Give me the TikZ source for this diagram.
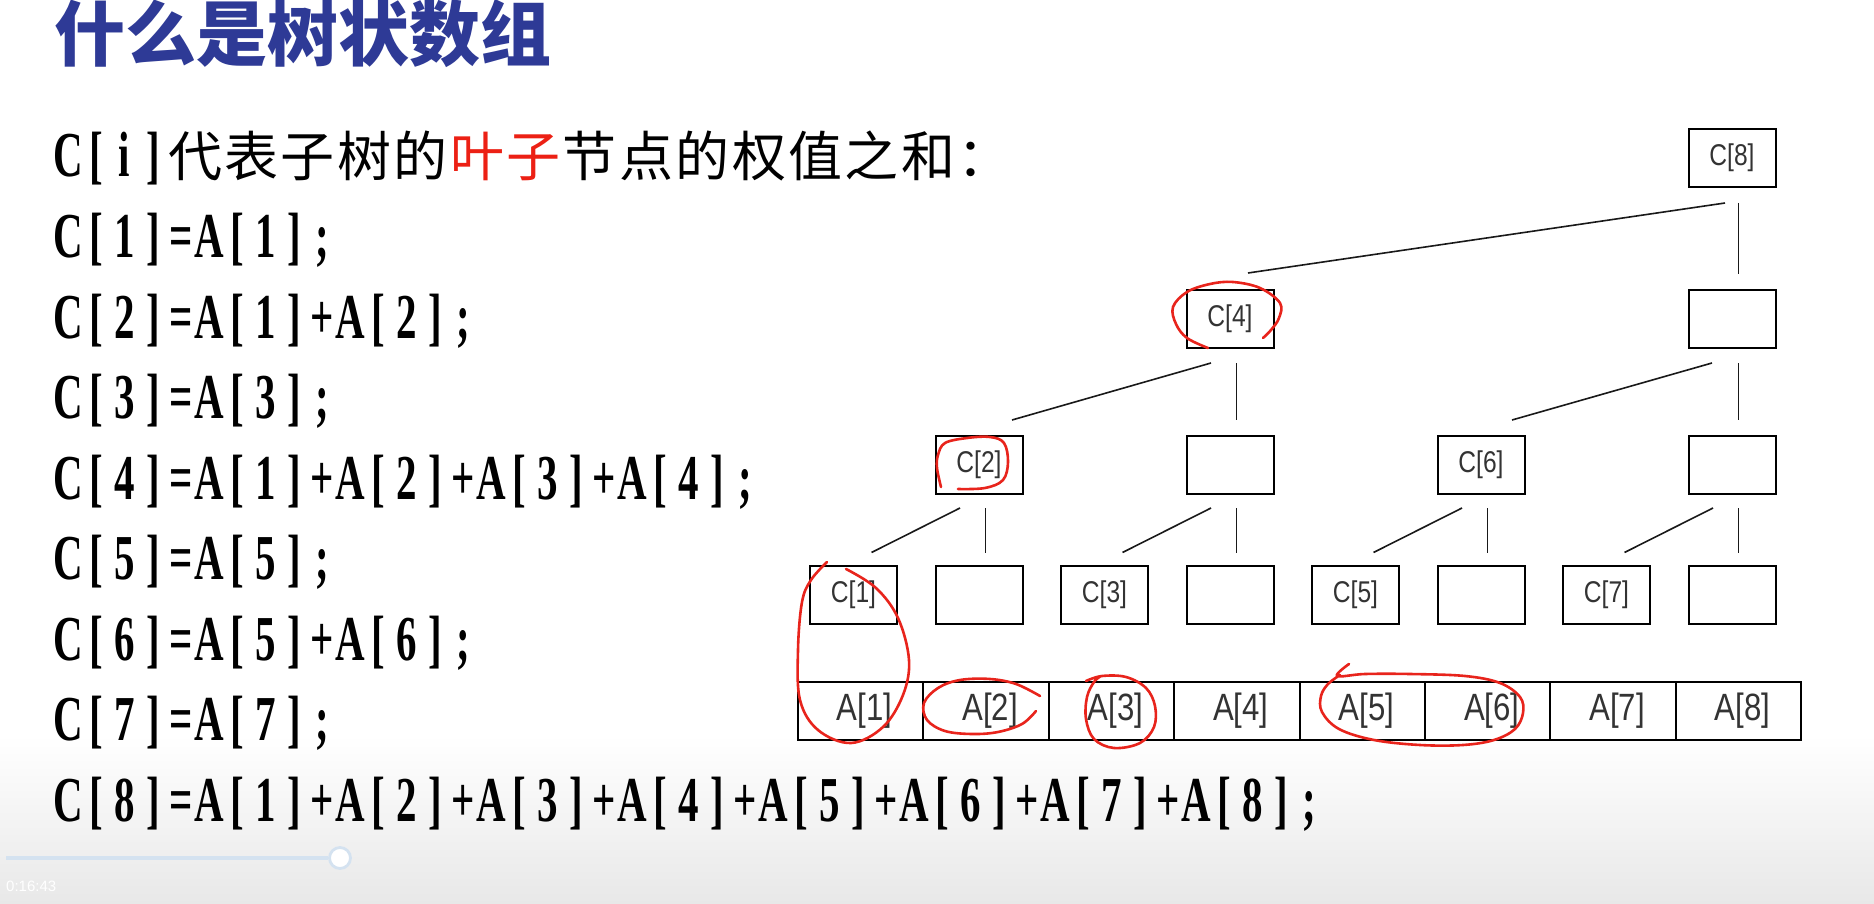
\documentclass[tikz,border=0pt]{standalone}
\usepackage{fontspec}
\setmainfont{Liberation Serif}
\newfontfamily\cjk{Noto Sans CJK SC}
\newfontfamily\latf[FakeStretch=0.64]{Liberation Serif}
\newfontfamily\boxf[FakeStretch=0.82]{Liberation Sans}
\newfontfamily\uif{Liberation Sans}
\definecolor{titleblue}{RGB}{46,58,150}
\definecolor{penred}{RGB}{232,36,28}
\definecolor{hlred}{RGB}{236,32,20}
\definecolor{barblue}{RGB}{212,226,240}
\def\latcells#1{\ifx#1\relax\else\makebox[28.2pt]{#1}\expandafter\latcells\fi}
\def\hancells#1{\ifx#1\relax\else\makebox[56.4pt]{#1}\expandafter\hancells\fi}
\begin{document}
\begin{tikzpicture}[x=1pt,y=-1pt,
  box/.style={draw=black, line width=2pt, minimum width=87pt, minimum height=58pt, inner sep=0pt,
    font=\boxf\fontsize{30pt}{32pt}\selectfont, text=black!80},
  cell/.style={draw=black, line width=2pt, minimum width=125.4pt, minimum height=58pt, inner sep=0pt,
    font=\boxf\fontsize{38pt}{40pt}\selectfont, text=black!80},
  link/.style={line width=1.6pt, draw=black!90},
  pen/.style={draw=penred, line width=2.6pt, line cap=round, line join=round},
  txt/.style={anchor=base west, inner sep=0pt, font=\latf\bfseries\fontsize{64pt}{66pt}\selectfont},
  title/.style={anchor=base west, inner sep=0pt, text=titleblue, font=\cjk\bfseries\fontsize{71pt}{74pt}\selectfont}
]
\useasboundingbox (0,0) rectangle (1874,904);
\fill[white] (0,0) rectangle (1874,904);
\shade[top color=white, bottom color=black!9] (0,735) rectangle (1874,904);

% title
\node[title] (title) at (54,61) {什么是树状数组};

% text lines
\newcommand\cjkfs{\cjk\mdseries\fontsize{54pt}{56pt}\selectfont}
\node[txt] (l0) at (54,177) {\latcells C[i]\relax{\cjkfs\hancells 代表子树的\relax{\color{hlred}\hancells 叶子\relax}\hancells 节点的权值之和：\relax}};
\node[txt] (l1) at (54,257.5) {\latcells C[1]=A[1];\relax};
\node[txt] (l2) at (54,338) {\latcells C[2]=A[1]+A[2];\relax};
\node[txt] (l3) at (54,418.5) {\latcells C[3]=A[3];\relax};
\node[txt] (l4) at (54,499) {\latcells C[4]=A[1]+A[2]+A[3]+A[4];\relax};
\node[txt] (l5) at (54,579.5) {\latcells C[5]=A[5];\relax};
\node[txt] (l6) at (54,660) {\latcells C[6]=A[5]+A[6];\relax};
\node[txt] (l7) at (54,740.5) {\latcells C[7]=A[7];\relax};
\node[txt] (l8) at (54,821) {\latcells C[8]=A[1]+A[2]+A[3]+A[4]+A[5]+A[6]+A[7]+A[8];\relax};

% tree boxes
\node[box] (c8) at (1732,158) {\raisebox{-3pt}{C[8]}};
\node[box] (c4) at (1230,319) {\raisebox{-3pt}{C[4]}};
\node[box] (k8) at (1732,319) {};
\node[box] (c2) at (979,465) {\raisebox{-3pt}{C[2]}};
\node[box] (m4) at (1230,465) {};
\node[box] (c6) at (1481,465) {\raisebox{-3pt}{C[6]}};
\node[box] (m8) at (1732,465) {};
\node[box] (c1) at (853.5,594.5) {\raisebox{-3pt}{C[1]}};
\node[box] (n2) at (979,594.5) {};
\node[box] (c3) at (1104.5,594.5) {\raisebox{-3pt}{C[3]}};
\node[box] (n4) at (1230,594.5) {};
\node[box] (c5) at (1355.5,594.5) {\raisebox{-3pt}{C[5]}};
\node[box] (n6) at (1481,594.5) {};
\node[box] (c7) at (1606.5,594.5) {\raisebox{-3pt}{C[7]}};
\node[box] (n8) at (1732,594.5) {};

% array cells
\node[cell] (a1) at (860.7,711) {\kern8pt A[1]};
\node[cell] (a2) at (986.1,711) {\kern8pt A[2]};
\node[cell] (a3) at (1111.5,711) {\kern8pt A[3]};
\node[cell] (a4) at (1236.9,711) {\kern8pt A[4]};
\node[cell] (a5) at (1362.3,711) {\kern8pt A[5]};
\node[cell] (a6) at (1487.7,711) {\kern8pt A[6]};
\node[cell] (a7) at (1613.1,711) {\kern8pt A[7]};
\node[cell] (a8) at (1738.5,711) {\kern8pt A[8]};

% connectors level 1 -> 2
\draw[link] ([xshift=6.5pt,yshift=-15pt]c8.south) -- ([xshift=6.5pt,yshift=15pt]k8.north);
\draw[link] ([xshift=-7pt,yshift=-15pt]c8.south) -- ([xshift=18pt,yshift=16pt]c4.north);
% level 2 -> 3
\draw[link] ([xshift=6.5pt,yshift=-14pt]c4.south) -- ([xshift=6.5pt,yshift=15pt]m4.north);
\draw[link] ([xshift=-19pt,yshift=-14pt]c4.south) -- ([xshift=33pt,yshift=15pt]c2.north);
\draw[link] ([xshift=6.5pt,yshift=-14pt]k8.south) -- ([xshift=6.5pt,yshift=15pt]m8.north);
\draw[link] ([xshift=-20pt,yshift=-14pt]k8.south) -- ([xshift=31pt,yshift=15pt]c6.north);
% level 3 -> 4
\foreach \p/\l/\r in {c2/c1/n2, m4/c3/n4, c6/c5/n6, m8/c7/n8}{
  \draw[link] ([xshift=6.5pt,yshift=-13pt]\p.south) -- ([xshift=6.5pt,yshift=12pt]\r.north);
  \draw[link] ([xshift=-19pt,yshift=-13pt]\p.south) -- ([xshift=18pt,yshift=12pt]\l.north);
}

% red hand-drawn marks
\draw[pen] plot[smooth, tension=0.6] coordinates {(1208,348) (1187,338) (1176,324) (1173,307) (1187,292) (1210,284) (1233,282) (1260,288) (1280,303) (1279,318) (1271,330) (1263,338)};
\draw[pen] plot[smooth, tension=0.6] coordinates {(941,487) (937,468) (938,455) (945,443) (967,438) (990,437) (1004,443) (1008,462) (1003,480) (985,488) (958,489)};
\draw[pen] plot[smooth, tension=0.6] coordinates {(827,562) (811,580) (802,602) (798,650) (800,700) (818,730) (851,743) (883,727) (903,695) (909,660) (898,618) (876,588) (846,569)};
\draw[pen] plot[smooth, tension=0.6] coordinates {(1040,696) (1016,684) (990,679) (960,680) (938,688) (924,703) (927,720) (945,731) (972,734) (998,732) (1022,724) (1036,711)};
\draw[pen] plot[smooth, tension=0.6] coordinates {(1086,681) (1102,676) (1126,677) (1146,688) (1155,706) (1154,727) (1140,743) (1114,748) (1094,739) (1086,719) (1087,697) (1094,682) (1101,676)};
\draw[pen] plot[smooth, tension=0.6] coordinates {(1349,664) (1337,676) (1365,674) (1410,674) (1465,676) (1500,683) (1520,697) (1523,713) (1515,729) (1494,740) (1463,745) (1420,745) (1374,740) (1339,729) (1322,712) (1321,696) (1328,684) (1340,675)};

% player bar
\coordinate (barstart) at (6,858);
\node[circle, draw=barblue, line width=2.8pt, fill=white, minimum size=21pt, inner sep=0pt] (knob) at (340,858) {};
\draw[barblue, line width=4pt] (barstart) -- (knob.west);
\node[anchor=west, inner sep=0pt, text=white, font=\uif\fontsize{15pt}{16pt}\selectfont] (time) at (6,886) {0:16:43};
\end{tikzpicture}
\end{document}
